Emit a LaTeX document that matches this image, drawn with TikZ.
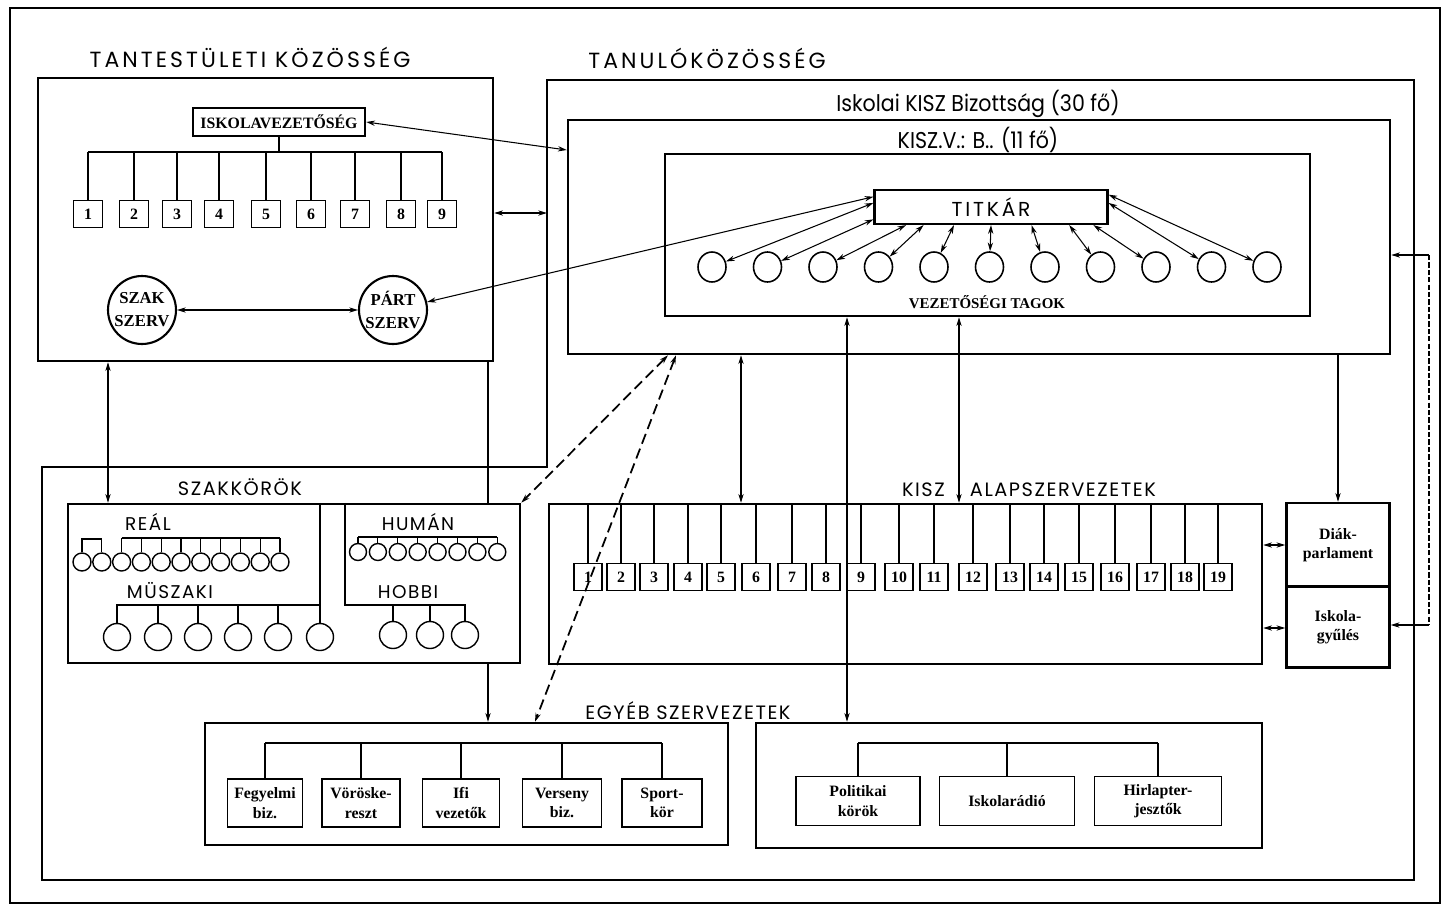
\documentclass[tikz,border=0pt]{standalone}
\usepackage{fontspec}
\setmainfont{Liberation Serif}
\newfontfamily\geo[LetterSpace=8]{Poppins}
\newfontfamily\geowide[LetterSpace=14]{Poppins}
\newfontfamily\geonarrow[FakeStretch=0.9]{Poppins}
\usetikzlibrary{arrows.meta,fit,shapes.geometric}

\begin{document}
\begin{tikzpicture}[x=0.02cm,y=-0.02cm,>={Stealth[length=5pt,width=3pt]}]
	\tikzstyle{container}=[draw,line width=1.4pt,inner sep=0pt]
	\tikzstyle{heading}=[font=\geowide\fontsize{12.5}{14}\selectfont]
	\tikzstyle{subhead}=[font=\geo\fontsize{11}{13}\selectfont]
	\tikzstyle{kindhead}=[font=\geo\fontsize{10.5}{12}\selectfont]
	\tikzstyle{condlabel}=[font=\geonarrow\fontsize{13}{15}\selectfont]
	\tikzstyle{leaderbox}=[draw,line width=1.4pt,inner sep=0pt,font=\bfseries\fontsize{9}{10}\selectfont]
	\tikzstyle{numbox}=[draw,line width=0.8pt,minimum width=0.58cm,minimum height=0.55cm,inner sep=0pt,font=\bfseries\fontsize{9}{10}\selectfont]
	\tikzstyle{szerv}=[circle,draw,line width=1.2pt,minimum size=1.36cm,inner sep=0pt,align=center,font=\bfseries\fontsize{9.5}{13}\selectfont]
	\tikzstyle{titkarbox}=[draw,line width=1.2pt,minimum width=4.66cm,minimum height=0.68cm,inner sep=0pt,font=\geowide\fontsize{11.5}{13}\selectfont]
	\tikzstyle{member}=[ellipse,draw,line width=0.9pt,minimum width=0.56cm,minimum height=0.6cm,inner sep=0pt]
	\tikzstyle{smallkor}=[circle,draw,line width=0.8pt,minimum size=0.36cm,inner sep=0pt]
	\tikzstyle{bigkor}=[circle,draw,line width=0.8pt,minimum size=0.54cm,inner sep=0pt]
	\tikzstyle{orgbox}=[draw,line width=0.9pt,inner sep=0pt,align=center,font=\bfseries\fontsize{9}{11}\selectfont]
	\tikzstyle{tree}=[draw,line width=0.6pt]
	\tikzstyle{link}=[draw,line width=0.6pt]
	\tikzstyle{dlink}=[draw,line width=1pt,dash pattern=on 6pt off 3pt]
	\tikzstyle{hatch}=[draw,line width=1.4pt,dash pattern=on 3pt off 1.2pt]
	\useasboundingbox (0,0) rectangle (1448,907);
	\draw[line width=1.2pt] (10,8) rectangle (1440,903);

	% tantestuleti kozosseg
	\node[heading] (tkt) at (250,57) {TANTESTÜLETI KÖZÖSSÉG};
	\node[container,fit={(38,78) (493,361)}] (tk) {};
	\node[leaderbox,minimum width=3.44cm,minimum height=0.56cm] (iv) at (279,122) {ISKOLAVEZETŐSÉG};
	\foreach \n/\x in {1/88,2/134,3/177,4/219,5/266,6/311,7/355,8/401,9/442}
		\node[numbox] (t\n) at (\x,214) {\n};
	\coordinate (ivb) at (279,152);
	\draw[tree] (iv.south) -- (ivb);
	\draw[tree] (t1.north |- ivb) -- (t9.north |- ivb);
	\foreach \n in {1,...,9}
		\draw[tree] (t\n.north) -- (t\n.north |- ivb);
	\node[szerv] (szak) at (142,310) {SZAK\\SZERV};
	\node[szerv] (part) at (393,310) {PÁRT\\SZERV};
	\draw[link,<->] (szak) -- (part);

	% tanulokozosseg
	\node[heading] (tat) at (707,58) {TANULÓKÖZÖSSÉG};
	\draw[line width=1.4pt] (547,80) -- (1414,80) -- (1414,880) -- (42,880) -- (42,467) -- (547,467) -- cycle;
	\coordinate (tanw) at (547,213);
	\draw[link,<->] (tk.east |- tanw) -- (tanw);
	\node[condlabel] (bizt) at (978,104) {Iskolai KISZ Bizottság (30 fő)};
	\node[container,fit={(568,120) (1390,354)}] (biz) {};
	\node[condlabel] (vbt) at (978,140) {KISZ.V.: B.. (11 fő)};
	\node[container,fit={(665,154) (1310,316)}] (vb) {};
	\node[titkarbox] (tit) at (991,207) {TITKÁR};
	\foreach \n in {1,...,11}
		\node[member] (m\n) at ({712+55.5*(\n-1)},267) {};
	\node[font=\bfseries\fontsize{8.5}{10}\selectfont] (vt) at (987,302) {VEZETŐSÉGI TAGOK};
	\foreach \n/\a in {1/178,2/186,3/192,4/195,5/206,6/270,7/336,8/347,9/350,10/2,11/6}
		\draw[link,<->] (tit.\a) -- (m\n);
	\draw[link,<->] (iv.east) -- (biz.west |- 0,150);
	\draw[link,<->] (part) -- (tit.175);

	% diakparlament, iskolagyules
	\node[orgbox,line width=1.4pt,minimum width=2.06cm,minimum height=1.68cm] (dp) at (1338,545) {Diák-\\parlament};
	\node[orgbox,line width=1.4pt,minimum width=2.06cm,minimum height=1.62cm] (ig) at (1338,627) {Iskola-\\gyűlés};
	\draw[link,->] (biz.south -| dp.north) -- (dp.north);
	\coordinate (dtop) at (1429,255);
	\coordinate (dbot) at (1429,625);
	\draw[link,->] (dtop) -- (biz.east |- dtop);
	\draw[link,->] (dbot) -- (ig.east |- dbot);
	\draw[hatch] (dtop) -- (dbot);

	% kisz alapszervezetek
	\node[subhead] (alt) at (1029,490) {KISZ\hspace{1.3em}ALAPSZERVEZETEK};
	\node[container,fit={(549,504) (1262,664)}] (alap) {};
	\foreach \n/\x in {1/588,2/621,3/654,4/688,5/721,6/756,7/792,8/826,9/861,10/899,11/934,12/973,13/1010,14/1044,15/1079,16/1115,17/1151,18/1185,19/1218}
		\node[numbox,minimum width=0.56cm] (a\n) at (\x,577) {\n};
	\foreach \n in {1,...,19}
		\draw[tree] (a\n.north) -- (a\n.north |- alap.north);
	\draw[link,<->] (alap.east |- 0,545) -- (dp.west |- 0,545);
	\draw[link,<->] (alap.east |- 0,628) -- (ig.west |- 0,628);
	\draw[link,<->] (biz.south -| 741,0) -- (alap.north -| 741,0);
	\draw[link,<->] (vb.south -| 959,0) -- (alap.north -| 959,0);

	% szakkorok
	\node[subhead] (szt) at (240,487) {SZAKKÖRÖK};
	\node[container,fit={(68,504) (520,663)}] (sz) {};
	\draw[link,<->] (tk.south -| 108,0) -- (sz.north -| 108,0);
	\node[kindhead] (realt) at (148,522) {REÁL};
	\foreach \n in {1,...,11}
		\node[smallkor] (r\n) at ({82+19.8*(\n-1)},562) {};
	\draw[tree] (r1.north) |- (r2.north |- 0,539) -- (r2.north);
	\draw[tree] (r3.north |- 0,538) -- (r11.north |- 0,538);
	\foreach \n in {3,...,11}
		\draw[tree] (r\n.north) -- (r\n.north |- 0,538);
	\node[kindhead] (must) at (170,591) {MÜSZAKI};
	\foreach \n/\x in {1/117,2/158,3/198,4/238,5/278,6/320}
		\node[bigkor] (u\n) at (\x,637) {};
	\draw[tree] (sz.north -| u6.north) -- (u6.north);
	\draw[tree] (u1.north) |- (u6.north |- 0,605);
	\foreach \n in {2,...,5}
		\draw[tree] (u\n.north) -- (u\n.north |- 0,605);
	\node[kindhead] (humt) at (418,522) {HUMÁN};
	\foreach \n in {1,...,8}
		\node[smallkor,minimum size=0.34cm] (h\n) at ({358+19.9*(\n-1)},552) {};
	\draw[tree] (h1.north |- 0,537) -- (h8.north |- 0,537);
	\foreach \n in {1,...,8}
		\draw[tree] (h\n.north) -- (h\n.north |- 0,537);
	\node[kindhead] (hobt) at (408,592) {HOBBI};
	\foreach \n/\x in {1/393,2/430,3/465}
		\node[bigkor] (o\n) at (\x,635) {};
	\draw[tree] (sz.north -| 345,0) |- (o3.north |- 0,605) -- (o3.north);
	\foreach \n in {1,2}
		\draw[tree] (o\n.north) -- (o\n.north |- 0,605);

	% egyeb szervezetek
	\node[subhead] (egt) at (688,711) {EGYÉB SZERVEZETEK};
	\node[container,fit={(205,723) (728,845)}] (eg1) {};
	\node[container,fit={(756,723) (1262,848)}] (eg2) {};
	\foreach \n/\x/\w/\t in {1/265/1.5/{Fegyelmi\\biz.},2/361/1.56/{Vöröske-\\reszt},3/461/1.54/{Ifi\\vezetők},4/562/1.58/{Verseny\\biz.},5/662/1.6/{Sport-\\kör}}
		\node[orgbox,minimum width=\w cm,minimum height=0.96cm] (f\n) at (\x,803) {\t};
	\draw[tree] (f1.north |- 0,743) -- (f5.north |- 0,743);
	\foreach \n in {1,...,5}
		\draw[tree] (f\n.north) -- (f\n.north |- 0,743);
	\foreach \n/\x/\w/\t in {1/858/2.48/{Politikai\\körök},2/1007/2.7/{Iskolarádió},3/1158/2.54/{Hirlapter-\\jesztők}}
		\node[orgbox,minimum width=\w cm,minimum height=0.98cm] (p\n) at (\x,801) {\t};
	\draw[tree] (p1.north |- 0,743) -- (p3.north |- 0,743);
	\foreach \n in {1,...,3}
		\draw[tree] (p\n.north) -- (p\n.north |- 0,743);
	\draw[link,<->] (vb.south -| 847,0) -- (eg2.north -| 847,0);
	\draw[tree] (tk.south -| 488,0) -- (sz.north -| 488,0);
	\draw[link,->] (sz.south -| 488,0) -- (eg1.north -| 488,0);
	\draw[dlink,<->] (biz.south -| 668,0) -- (sz.north east);
	\draw[dlink,<->] (biz.south -| 676,0) -- (eg1.north -| 535,0);
\end{tikzpicture}
\end{document}
